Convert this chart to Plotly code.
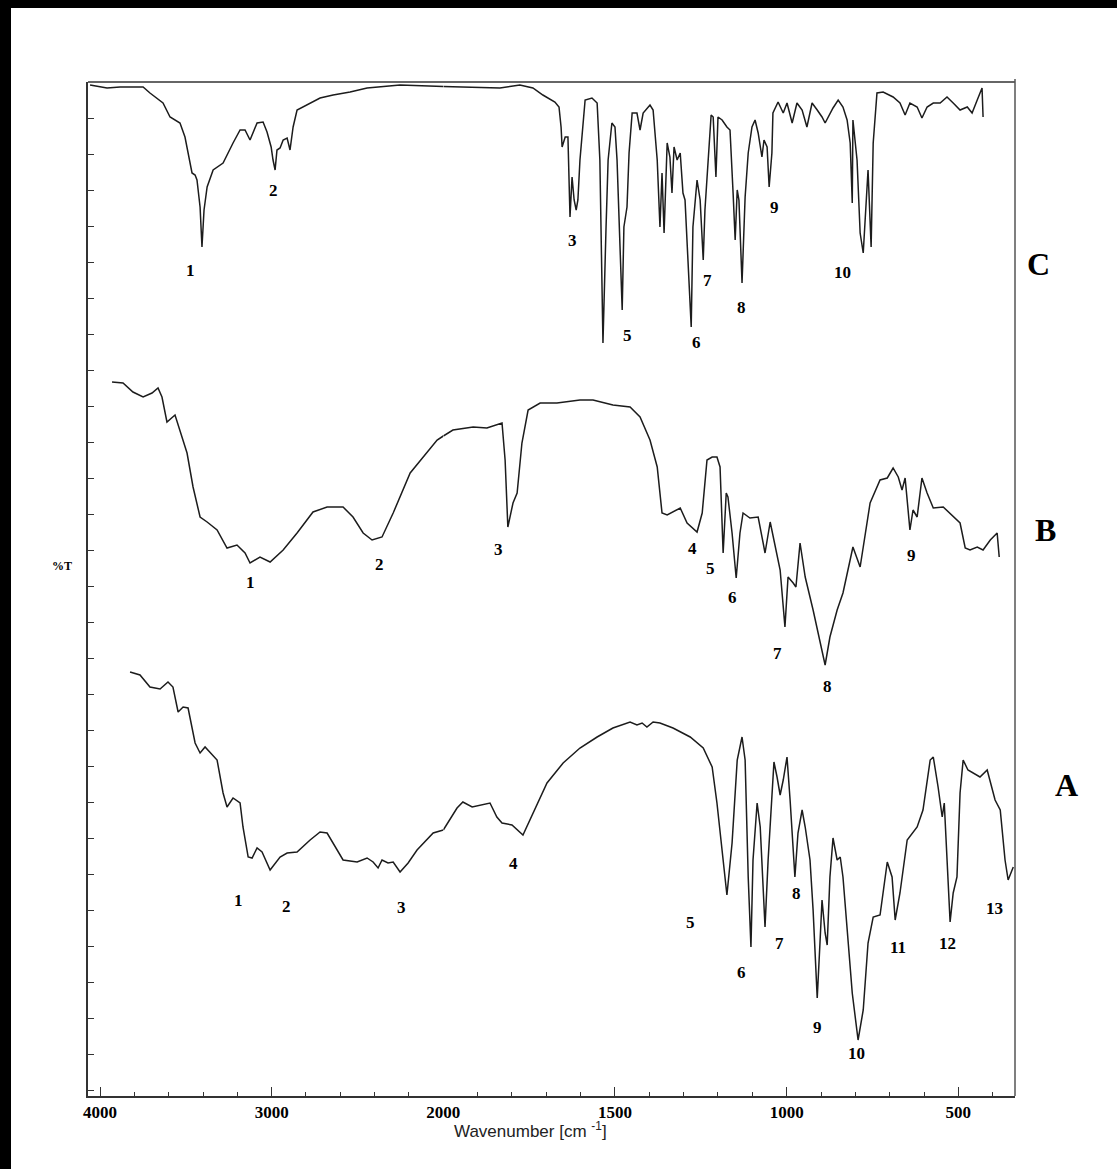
import plotly.graph_objects as go

# ---------------- data (wavenumber cm-1, stacked %T offset units) ----------------
WN_C = [4058, 3959, 3883, 3749, 3709, 3633, 3592, 3534, 3505, 3487, 3464, 3446, 3435, 3417, 3406,
        3394, 3376, 3341, 3283, 3225, 3184, 3155, 3126, 3085, 3050, 3027, 3003, 2992, 2980, 2969,
        2951, 2933, 2910, 2893, 2875, 2852, 2794, 2718, 2642, 2543, 2444, 2252, 2000,
        1835, 1777, 1739, 1710, 1675, 1663, 1657, 1654, 1645, 1637, 1631, 1625, 1619, 1613, 1608,
        1602, 1587, 1567, 1552, 1544, 1535, 1526, 1520, 1509, 1500, 1494, 1485, 1479, 1474, 1465,
        1459, 1450, 1436, 1427, 1418, 1398, 1389, 1377, 1369, 1363, 1357, 1348, 1340, 1334, 1328,
        1319, 1310, 1302, 1296, 1287, 1278, 1273, 1261, 1252, 1243, 1238, 1232, 1220, 1214, 1206,
        1200, 1188, 1174, 1165, 1156, 1150, 1144, 1139, 1130, 1121, 1112, 1101, 1092, 1083, 1072,
        1066, 1057, 1051, 1043, 1040, 1025, 1010, 999, 984, 970, 955, 941, 926, 911, 897, 888,
        874, 865, 850, 836, 824, 815, 809, 807, 795, 786, 777, 769, 763, 754, 748, 737, 719, 690,
        670, 655, 641, 620, 606, 591, 573, 553, 533, 515, 495, 474, 460, 445, 431, 428]
T_C = [101.1, 100.8, 100.9, 100.9, 100.3, 99.3, 97.9, 97.3, 95.9, 94.3, 92.3, 92.1, 91.6, 88.9, 84.9,
       88.6, 90.9, 92.6, 93.3, 95.3, 96.6, 96.6, 95.6, 97.3, 97.4, 96.4, 94.9, 93.6, 92.6, 94.6,
       94.8, 95.6, 95.8, 94.6, 96.9, 98.6, 99.1, 99.8, 100.1, 100.4, 100.8, 101.1, 100.95,
       100.8, 101.1, 100.8, 100.1, 99.4, 98.9, 96.9, 94.9, 95.9, 95.9, 87.9, 91.9, 89.6, 88.6, 89.6,
       93.6, 99.6, 99.8, 99.3, 93.6, 75.3, 86.9, 93.6, 97.3, 96.9, 93.6, 83.6, 78.6, 86.9, 88.9,
       94.3, 98.3, 98.3, 96.6, 98.3, 99.1, 98.6, 93.6, 86.9, 92.3, 86.3, 95.3, 93.9, 90.3, 94.9,
       93.6, 94.3, 90.3, 89.6, 83.6, 76.9, 86.9, 91.6, 89.6, 83.6, 88.6, 91.9, 98.1, 97.9, 91.9,
       97.9, 97.6, 96.9, 96.6, 90.3, 85.6, 90.6, 89.6, 81.3, 89.9, 94.3, 96.9, 97.6, 96.3, 93.9,
       95.6, 94.9, 90.9, 94.3, 98.3, 99.4, 98.3, 99.3, 97.3, 99.3, 98.6, 96.9, 99.3, 98.6, 97.9, 97.3,
       98.3, 98.8, 99.6, 98.9, 97.6, 95.3, 89.3, 97.6, 93.6, 86.3, 84.3, 88.6, 92.6, 84.9, 95.3, 100.3, 100.4, 99.9,
       99.3, 98.1, 99.3, 98.9, 97.8, 98.9, 99.3, 99.3, 99.9, 99.3, 98.6, 98.9, 98.3, 99.6, 100.8, 97.9]

WN_B = [3930, 3866, 3808, 3749, 3697, 3662, 3639, 3610, 3563, 3534, 3493, 3458, 3417, 3376, 3318,
        3260, 3202, 3155, 3126, 3068, 3009, 2933, 2852, 2759, 2677, 2584, 2526, 2467, 2415, 2357,
        2292, 2193, 2118, 2036, 2000,
        1972, 1913, 1873, 1829, 1820, 1812, 1797, 1785, 1771, 1753, 1718, 1669, 1602, 1564, 1506,
        1456, 1427, 1398, 1377, 1363, 1348, 1310, 1290, 1261, 1246, 1232, 1217, 1203, 1194, 1185,
        1176, 1171, 1159, 1147, 1136, 1127, 1107, 1083, 1063, 1048, 1034, 1019, 1005, 996, 981,
        973, 961, 946, 923, 903, 888, 874, 853, 836, 807, 786, 772, 757, 728, 707, 690, 675, 664,
        655, 641, 632, 620, 606, 591, 573, 544, 515, 495, 480, 466, 445, 428, 407, 387, 381]
T_B = [71.4, 71.3, 70.4, 69.9, 70.3, 70.8, 69.9, 67.4, 68.1, 66.6, 64.3, 60.9, 57.9, 57.4, 56.6,
       54.8, 55.1, 54.3, 53.3, 53.9, 53.4, 54.6, 56.3, 58.4, 58.9, 58.9, 57.9, 56.3, 55.6, 55.9,
       58.3, 62.3, 63.9, 65.6, 66.0,
       66.6, 66.9, 66.8, 67.3, 63.6, 56.9, 59.3, 60.3, 65.3, 68.6, 69.3, 69.3, 69.6, 69.6, 69.1,
       68.9, 67.9, 65.6, 62.9, 58.3, 58.1, 58.8, 57.3, 56.4, 58.3, 63.6, 63.9, 63.9, 62.9, 54.3,
       60.3, 59.9, 56.3, 51.8, 56.3, 58.3, 57.8, 57.9, 54.3, 57.4, 54.9, 52.6, 46.9, 51.9, 51.3,
       50.9, 55.3, 51.9, 48.6, 45.3, 43.1, 45.9, 48.6, 50.3, 54.9, 52.9, 55.9, 59.3, 61.6, 61.8, 62.8, 61.9, 60.6,
       61.8, 56.6, 58.6, 57.9, 61.8, 60.3, 58.8, 58.9, 57.9, 57.3, 54.8, 54.6, 54.9, 54.6, 55.6, 56.3, 53.9]

WN_A = [3825, 3767, 3709, 3650, 3604, 3575, 3545, 3516, 3487, 3446, 3417, 3388, 3318, 3283, 3260,
        3225, 3184, 3167, 3137, 3114, 3085, 3056, 3009, 2951, 2910, 2852, 2776, 2718, 2677, 2619,
        2584, 2502, 2444, 2409, 2380, 2357, 2322, 2292, 2252, 2205, 2153, 2059, 2000,
        1960, 1943, 1916, 1864, 1844, 1829, 1800, 1768, 1739, 1698, 1651, 1602, 1552, 1506, 1456,
        1436, 1421, 1407, 1389, 1369, 1331, 1281, 1243, 1217, 1203, 1188, 1174, 1159, 1144, 1130,
        1121, 1112, 1104, 1098, 1086, 1077, 1069, 1063, 1054, 1043, 1037, 1028, 1019, 1010, 999,
        990, 976, 967, 955, 946, 932, 923, 911, 903, 897, 888, 882, 874, 865, 853, 844, 836, 824,
        809, 792, 777, 763, 748, 728, 719, 707, 693, 684, 670, 649, 620, 603, 582, 573, 559, 547,
        541, 533, 524, 515, 504, 495, 486, 472, 437, 416, 402, 393, 378, 364, 355, 340]
T_A = [42.4, 42.1, 40.9, 40.7, 41.4, 40.9, 38.4, 38.9, 38.8, 35.3, 34.3, 34.9, 33.6, 30.3, 28.9,
       29.8, 29.3, 26.9, 23.9, 23.8, 24.8, 24.4, 22.6, 23.9, 24.3, 24.4, 25.6, 26.4, 26.3, 24.6,
       23.6, 23.4, 23.8, 23.4, 22.8, 23.6, 23.3, 23.4, 22.4, 23.3, 24.6, 26.3, 26.6,
       28.8, 29.4, 28.9, 29.3, 27.9, 27.3, 27.1, 26.1, 28.3, 31.3, 33.3, 34.8, 35.9, 36.8, 37.4,
       37.1, 37.3, 36.9, 37.4, 37.3, 36.8, 35.9, 34.8, 32.9, 29.3, 24.3, 20.1, 25.3, 33.6, 35.9,
       33.6, 21.9, 14.9, 23.6, 29.3, 26.9, 20.3, 16.9, 23.6, 30.3, 33.4, 31.9, 30.1, 31.6, 33.9,
       29.6, 21.9, 26.3, 28.6, 26.9, 23.6, 18.6, 9.8, 15.3, 19.6, 16.3, 15.1, 21.9, 25.8, 23.6, 23.9, 21.9, 16.9,
       10.3, 5.6, 8.6, 15.3, 17.9, 18.1, 20.3, 23.4, 21.9, 17.6, 20.3, 25.6, 26.9, 28.6, 33.6, 33.9, 30.9, 27.9,
       29.3, 23.6, 17.4, 20.3, 21.9, 30.3, 33.6, 32.6, 31.9, 32.6, 30.9, 29.6, 28.6, 23.6, 21.6, 22.9]

# peak numbers: (text, wavenumber, offset %T)
LABELS_C = [("1", 3475, 82.6), ("2", 2992, 90.6), ("3", 1625, 85.6), ("5", 1465, 76.1),
            ("6", 1264, 75.4), ("7", 1232, 81.6), ("8", 1133, 78.9), ("9", 1034, 88.9),
            ("10", 836, 82.4)]
LABELS_B = [("1", 3126, 51.4), ("2", 2374, 53.2), ("3", 1838, 54.7), ("4", 1273, 54.8),
            ("5", 1223, 52.8), ("6", 1159, 49.9), ("7", 1028, 44.3), ("8", 882, 41.0),
            ("9", 635, 54.1)]
LABELS_A = [("1", 3196, 19.6), ("2", 2916, 19.0), ("3", 2246, 18.9), ("4", 1797, 23.3),
            ("5", 1281, 17.4), ("6", 1133, 12.4), ("7", 1022, 15.3), ("8", 970, 20.3),
            ("9", 911, 6.9), ("10", 798, 4.3), ("11", 675, 14.9), ("12", 533, 15.3),
            ("13", 396, 18.8)]

TICKS_HI = [4000, 3000]
TICKS_LO = [2000, 1500, 1000, 500]

# ---------------- layout geometry ----------------
W, H = 1117, 1169
ML, MR, MT, MB = 88, 102, 82, 73
PW, PH = W - ML - MR, H - MT - MB
SPLIT = 2000
DOM_SPLIT = (443.3 - ML) / PW
LINE = "#1c1c1c"
SERIF = "Liberation Serif, Times New Roman, serif"

fig = go.Figure()
for wn, tv in [(WN_C, T_C), (WN_B, T_B), (WN_A, T_A)]:
    hi = [(w, t) for w, t in zip(wn, tv) if w >= SPLIT]
    lo = [(w, t) for w, t in zip(wn, tv) if w <= SPLIT]
    for pts, xa in [(hi, "x"), (lo, "x2")]:
        fig.add_trace(go.Scatter(
            x=[p[0] for p in pts], y=[p[1] for p in pts], xaxis=xa, yaxis="y",
            mode="lines", line=dict(color=LINE, width=1.5), showlegend=False,
            hoverinfo="skip"))

axis_common = dict(
    showline=True, linecolor="#333333", linewidth=1.5, showgrid=False, zeroline=False,
    ticks="inside", ticklen=9, tickwidth=1.3, tickcolor="#333333",
    tickfont=dict(family=SERIF, size=17, color="black", weight="bold"),
    anchor="y",
)

ytickvals = [round(97.8 - 3.6 * i, 1) for i in range(28)]

fig.update_layout(
    width=W, height=H,
    margin=dict(l=ML, r=MR, t=MT, b=MB),
    paper_bgcolor="white", plot_bgcolor="white",
    xaxis=dict(domain=[0, DOM_SPLIT], range=[4070, 2000], tickvals=TICKS_HI,
               ticktext=[str(v) for v in TICKS_HI],
               minor=dict(ticks="inside", ticklen=4, tickwidth=1, tickcolor="#333333",
                          dtick=200, tick0=0),
               **axis_common),
    xaxis2=dict(domain=[DOM_SPLIT, 1], range=[2000, 335], tickvals=TICKS_LO,
                ticktext=[str(v) for v in TICKS_LO],
                minor=dict(ticks="inside", ticklen=4, tickwidth=1, tickcolor="#333333",
                           dtick=100, tick0=0),
                **axis_common),
    yaxis=dict(range=[0, 101.4], showticklabels=False, showline=True, linecolor="#333333",
               linewidth=2, showgrid=False, zeroline=False, ticks="inside", ticklen=6,
               tickwidth=1.3, tickcolor="#333333", tickvals=ytickvals),
)

# frame lines (top and right)
fig.add_shape(type="line", xref="paper", yref="paper", x0=0, x1=1, y0=1, y1=1,
              line=dict(color="#333333", width=1.5))
fig.add_shape(type="line", xref="paper", yref="paper", x0=1, x1=1, y0=0, y1=1.003,
              line=dict(color="#555555", width=1.5))


def paper(px, py):
    return (px - ML) / PW, (H - MB - py) / PH


# black bars along the left and top edges of the picture
lx0, ly0 = paper(0, H)
lx1, ly1 = paper(11, 0)
fig.add_shape(type="rect", xref="paper", yref="paper", x0=lx0, x1=lx1, y0=ly0, y1=ly1,
              fillcolor="black", line=dict(width=0), layer="above")
tx0, ty0 = paper(0, 8)
tx1, ty1 = paper(W, 0)
fig.add_shape(type="rect", xref="paper", yref="paper", x0=tx0, x1=tx1, y0=ty0, y1=ty1,
              fillcolor="black", line=dict(width=0), layer="above")

annotations = []
for labels in (LABELS_C, LABELS_B, LABELS_A):
    for txt, wn, tv in labels:
        annotations.append(dict(
            text=txt, x=wn, y=tv, xref="x" if wn > SPLIT else "x2", yref="y",
            showarrow=False, font=dict(family=SERIF, size=17, color="black", weight="bold")))

for txt, px, py in [("C", 1052, 244), ("B", 1058, 530), ("A", 1080, 805)]:
    xp, yp = paper(px, py)
    annotations.append(dict(text=txt, x=xp, y=yp, xref="paper", yref="paper", showarrow=False,
                            font=dict(family=SERIF, size=32, color="black", weight="bold")))

xp, yp = paper(50, 566)
annotations.append(dict(text="%T", x=xp, y=yp, xref="paper", yref="paper", showarrow=False,
                        font=dict(family=SERIF, size=12, color="black", weight="bold")))
xp, yp = paper(530, 1143)
annotations.append(dict(text="Wavenumber [cm <sup>-1</sup>]", x=xp, y=yp, xref="paper",
                        yref="paper", showarrow=False,
                        font=dict(family="Liberation Sans, Arial, sans-serif", size=17,
                                  color="#222222")))
fig.update_layout(annotations=annotations)

fig.write_html("out.html", config={"displayModeBar": False},
               post_script="document.body.style.margin='0px';")
